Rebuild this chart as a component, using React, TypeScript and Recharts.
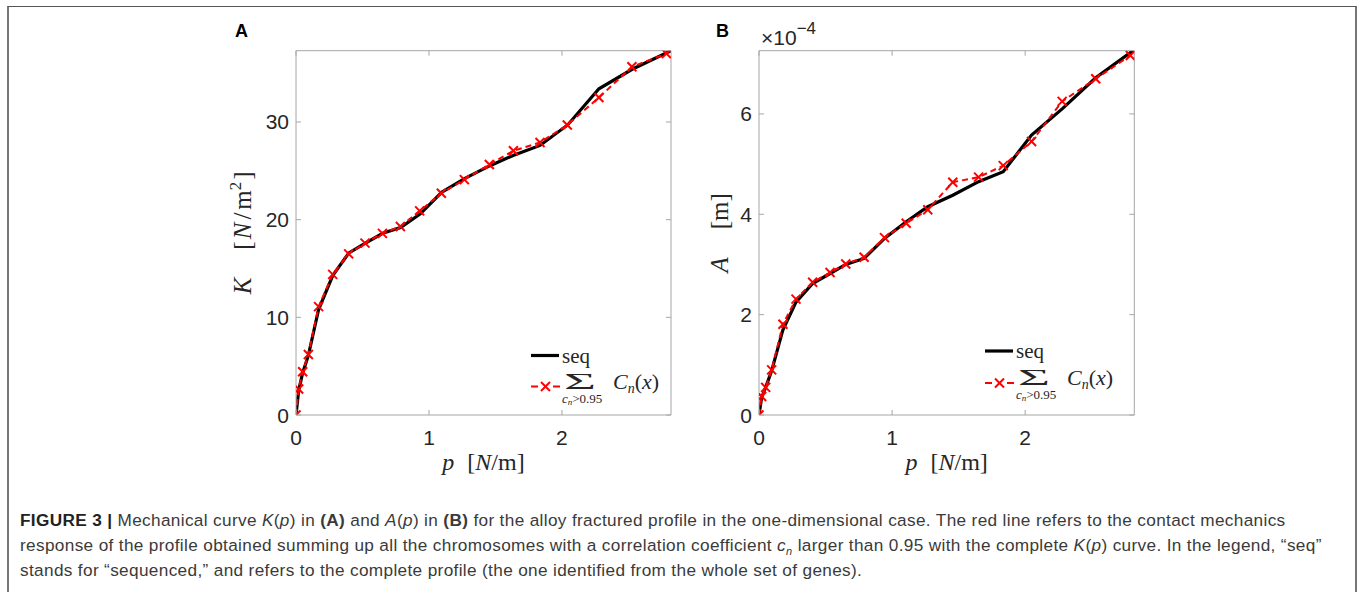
import React from "react";
import { LineChart, Line, XAxis, YAxis, Label } from "recharts";

// panel A: K(p), panel B: A(p) (A in units of 1e-4 m)
const pSeqK = [0, 0.02, 0.05, 0.093, 0.17, 0.277, 0.398, 0.522, 0.652, 0.787, 0.935, 1.095, 1.267, 1.455, 1.637, 1.835, 2.043, 2.278, 2.528, 2.82];
const kSeq = [0, 2.5, 4.3, 6.1, 10.8, 14.3, 16.6, 17.6, 18.6, 19.2, 20.6, 22.8, 24.2, 25.5, 26.6, 27.6, 29.7, 33.4, 35.4, 37.3];
const pFitK = [0, 0.02, 0.05, 0.093, 0.17, 0.276, 0.396, 0.519, 0.65, 0.785, 0.93, 1.093, 1.266, 1.454, 1.635, 1.835, 2.04, 2.278, 2.526, 2.785];
const kFit = [0, 2.66, 4.43, 6.2, 11.1, 14.4, 16.5, 17.6, 18.6, 19.3, 20.9, 22.7, 24.1, 25.65, 27.05, 27.9, 29.7, 32.5, 35.65, 37.0];

const pSeqA = [0, 0.02, 0.05, 0.095, 0.18, 0.278, 0.403, 0.534, 0.652, 0.79, 0.943, 1.106, 1.268, 1.456, 1.65, 1.835, 2.048, 2.278, 2.53, 2.82];
const aSeq = [0, 0.35, 0.55, 0.88, 1.7, 2.25, 2.62, 2.82, 3.0, 3.12, 3.52, 3.85, 4.15, 4.38, 4.65, 4.85, 5.58, 6.1, 6.72, 7.28];
const pFitA = [0, 0.02, 0.05, 0.095, 0.18, 0.278, 0.403, 0.534, 0.652, 0.79, 0.943, 1.106, 1.268, 1.456, 1.65, 1.835, 2.048, 2.278, 2.53, 2.79];
const aFit = [0, 0.37, 0.55, 0.9, 1.81, 2.31, 2.645, 2.84, 3.01, 3.145, 3.535, 3.82, 4.09, 4.64, 4.74, 4.97, 5.45, 6.25, 6.7, 7.165];

const xTicks = [0, 1, 2];
const kTicks = [0, 10, 20, 30];
const aTicks = [0, 2, 4, 6];
const X_MAX = 2.82;

const SERIF = '"Liberation Serif", "DejaVu Serif", serif';
const SANS = '"Liberation Sans", Arial, sans-serif';
const BOX = "#a6a6a6";
const TXT = "#262626";
const RED = "#ff0000";
const TL = 5;

const rows = (p: number[], v: number[]) => p.map((x, i) => ({ p: x, v: v[i] }));

const BottomTick = ({ x, y, payload }: any) => (
  <g>
    <line x1={x} x2={x} y1={y} y2={y - TL} stroke={BOX} />
    <text x={x} y={y + 30} textAnchor="middle" fontSize={21} fill={TXT} fontFamily={SANS}>
      {payload.value}
    </text>
  </g>
);
const TopTick = ({ x, y }: any) => <line x1={x} x2={x} y1={y} y2={y + TL} stroke={BOX} />;
const LeftTick = ({ x, y, payload }: any) => (
  <g>
    <line x1={x} x2={x + TL} y1={y} y2={y} stroke={BOX} />
    <text x={x - 7} y={y + 7.5} textAnchor="end" fontSize={21} fill={TXT} fontFamily={SANS}>
      {payload.value}
    </text>
  </g>
);
const RightTick = ({ x, y }: any) => <line x1={x} x2={x - TL} y1={y} y2={y} stroke={BOX} />;

const XMark = (props: any) => {
  const { cx, cy, index } = props;
  const s = 4.5;
  if (cx == null || cy == null) return <g key={`m${index}`} />;
  return (
    <g key={`m${index}`}>
      <line x1={cx - s} y1={cy - s} x2={cx + s} y2={cy + s} stroke={RED} strokeWidth={2} />
      <line x1={cx - s} y1={cy + s} x2={cx + s} y2={cy - s} stroke={RED} strokeWidth={2} />
    </g>
  );
};

const xTitle = ({ viewBox }: any) => {
  const cx = viewBox.x + viewBox.width / 2;
  const y = viewBox.y + 55;
  return (
    <text x={cx} y={y} textAnchor="middle" fontFamily={SERIF} fontSize={24} fill={TXT}>
      <tspan fontStyle="italic">p</tspan>
      <tspan dx={13}>[</tspan>
      <tspan fontStyle="italic">N</tspan>
      <tspan>/m]</tspan>
    </text>
  );
};

const yTitle = (sym: string, unit: "Nm2" | "m", off: number) => ({ viewBox }: any) => {
  const cx = viewBox.x - off;
  const cy = viewBox.y + viewBox.height / 2;
  return (
    <text x={cx} y={cy} transform={`rotate(-90 ${cx} ${cy})`} textAnchor="middle" fontFamily={SERIF} fontSize={25} fill={TXT}>
      <tspan fontStyle="italic">{sym}</tspan>
      <tspan dx={28}>[</tspan>
      {unit === "Nm2" ? (
        <>
          <tspan fontStyle="italic" dx={2}>N</tspan>
          <tspan dx={3}>/</tspan>
          <tspan dx={3}>m</tspan>
          <tspan dy={-10} fontSize={17}>2</tspan>
          <tspan dy={10} dx={2}>]</tspan>
        </>
      ) : (
        <tspan>m]</tspan>
      )}
    </text>
  );
};

function Panel({ left, top, width, height, margin, seq, fit, yMax, yTicks, yLabel }: any) {
  return (
    <div style={{ position: "absolute", left, top }}>
      <LineChart width={width} height={height} margin={margin}>
        <XAxis
          xAxisId="b"
          type="number"
          dataKey="p"
          domain={[0, X_MAX]}
          ticks={xTicks}
          allowDataOverflow
          height={1}
          tickSize={0}
          tickMargin={0}
          axisLine={{ stroke: BOX }}
          tickLine={false}
          tick={BottomTick}
          interval={0}
        >
          <Label content={xTitle} />
        </XAxis>
        <XAxis
          xAxisId="t"
          orientation="top"
          type="number"
          dataKey="p"
          domain={[0, X_MAX]}
          ticks={xTicks}
          allowDataOverflow
          height={1}
          tickSize={0}
          tickMargin={0}
          axisLine={{ stroke: BOX }}
          tickLine={false}
          tick={TopTick}
          interval={0}
        />
        <YAxis
          yAxisId="l"
          type="number"
          domain={[0, yMax]}
          ticks={yTicks}
          allowDataOverflow
          width={1}
          tickSize={0}
          tickMargin={0}
          axisLine={{ stroke: BOX }}
          tickLine={false}
          tick={LeftTick}
          interval={0}
        >
          <Label content={yLabel} />
        </YAxis>
        <YAxis
          yAxisId="r"
          orientation="right"
          type="number"
          domain={[0, yMax]}
          ticks={yTicks}
          allowDataOverflow
          width={1}
          tickSize={0}
          tickMargin={0}
          axisLine={{ stroke: BOX }}
          tickLine={false}
          tick={RightTick}
          interval={0}
        />
        <Line
          xAxisId="b"
          yAxisId="l"
          data={seq}
          dataKey="v"
          type="linear"
          stroke="#000"
          strokeWidth={3.2}
          dot={false}
          activeDot={false}
          isAnimationActive={false}
        />
        <Line
          xAxisId="t"
          yAxisId="r"
          data={fit}
          dataKey="v"
          type="linear"
          stroke={RED}
          strokeWidth={2}
          strokeDasharray="6 4"
          dot={XMark}
          activeDot={false}
          isAnimationActive={false}
        />
      </LineChart>
    </div>
  );
}

function LegendMark({ x, y, dy2 }: { x: number; y: number; dy2: number }) {
  const y2 = y + dy2;
  return (
    <g>
      <line x1={x} y1={y} x2={x + 28} y2={y} stroke="#000" strokeWidth={3.2} />
      <text x={x + 31} y={y + 7} fontFamily={SERIF} fontSize={21} fill={TXT}>seq</text>
      <line x1={x} y1={y2} x2={x + 7} y2={y2} stroke={RED} strokeWidth={2} />
      <line x1={x + 22} y1={y2} x2={x + 29} y2={y2} stroke={RED} strokeWidth={2} />
      <line x1={x + 10} y1={y2 - 4.5} x2={x + 19} y2={y2 + 4.5} stroke={RED} strokeWidth={2} />
      <line x1={x + 10} y1={y2 + 4.5} x2={x + 19} y2={y2 - 4.5} stroke={RED} strokeWidth={2} />
      <text x={x + 33} y={y2 + 2} fontFamily={SERIF} fontSize={23} fill={TXT} textLength={32} lengthAdjust="spacingAndGlyphs">
        Σ
      </text>
      <text x={x + 31} y={y2 + 16} fontFamily={SERIF} fontSize={13} fill={TXT}>
        <tspan fontStyle="italic">c</tspan>
        <tspan fontStyle="italic" fontSize={9} dy={2}>n</tspan>
        <tspan dy={-2}>&gt;0.95</tspan>
      </text>
      <text x={x + 82} y={y2 + 2} fontFamily={SERIF} fontSize={22} fill={TXT}>
        <tspan fontStyle="italic">C</tspan>
        <tspan fontStyle="italic" fontSize={14} dy={4}>n</tspan>
        <tspan dy={-4}>(</tspan>
        <tspan fontStyle="italic">x</tspan>
        <tspan>)</tspan>
      </text>
    </g>
  );
}

export default function App() {
  return (
    <div style={{ position: "absolute", left: 0, top: 0, width: 1358, height: 592, background: "#fff", overflow: "hidden" }}>
      <div
        style={{
          position: "absolute",
          left: 7,
          top: 6,
          width: 1346,
          height: 600,
          borderTop: "1px solid #555",
          borderLeft: "2px solid #777",
          borderRight: "2px solid #777",
        }}
      />
      <Panel
        left={200}
        top={20}
        width={500}
        height={470}
        margin={{ top: 29.7, right: 28, bottom: 74, left: 95 }}
        seq={rows(pSeqK, kSeq)}
        fit={rows(pFitK, kFit)}
        yMax={37.3}
        yTicks={kTicks}
        yLabel={yTitle("K", "Nm2", 44)}
      />
      <Panel
        left={690}
        top={20}
        width={500}
        height={470}
        margin={{ top: 29.7, right: 54.7, bottom: 74, left: 68 }}
        seq={rows(pSeqA, aSeq)}
        fit={rows(pFitA, aFit)}
        yMax={7.26}
        yTicks={aTicks}
        yLabel={yTitle("A", "m", 30)}
      />
      <svg width={1358} height={592} style={{ position: "absolute", left: 0, top: 0, pointerEvents: "none" }}>
        <text x={235} y={37} fontFamily={SANS} fontWeight="bold" fontSize={18} fill="#000">A</text>
        <text x={716} y={37} fontFamily={SANS} fontWeight="bold" fontSize={18} fill="#000">B</text>
        <text x={761} y={45} fontFamily={SANS} fontSize={21} fill={TXT}>
          <tspan>×10</tspan>
          <tspan dy={-11} fontSize={17}>−4</tspan>
        </text>
        <LegendMark x={531} y={355.5} dy2={31} />
        <LegendMark x={985} y={351} dy2={32} />
      </svg>
      <div
        style={{
          position: "absolute",
          left: 20,
          top: 508,
          fontFamily: SANS,
          fontSize: 17.2,
          letterSpacing: 0.35,
          lineHeight: "25px",
          color: "#3a3a3a",
          whiteSpace: "nowrap",
        }}
      >
        <div>
          <b style={{ color: "#222" }}>FIGURE 3 |</b> Mechanical curve <i>K</i>(<i>p</i>) in <b>(A)</b> and <i>A</i>(<i>p</i>) in <b>(B)</b> for the alloy fractured profile in the one-dimensional case. The red line refers to the contact mechanics
        </div>
        <div>
          response of the profile obtained summing up all the chromosomes with a correlation coefficient <i>c</i>
          <sub style={{ fontSize: 11, lineHeight: 0 }}><i>n</i></sub> larger than 0.95 with the complete <i>K</i>(<i>p</i>) curve. In the legend, “seq”
        </div>
        <div>
          stands for “sequenced,” and refers to the complete profile (the one identified from the whole set of genes).
        </div>
      </div>
    </div>
  );
}
